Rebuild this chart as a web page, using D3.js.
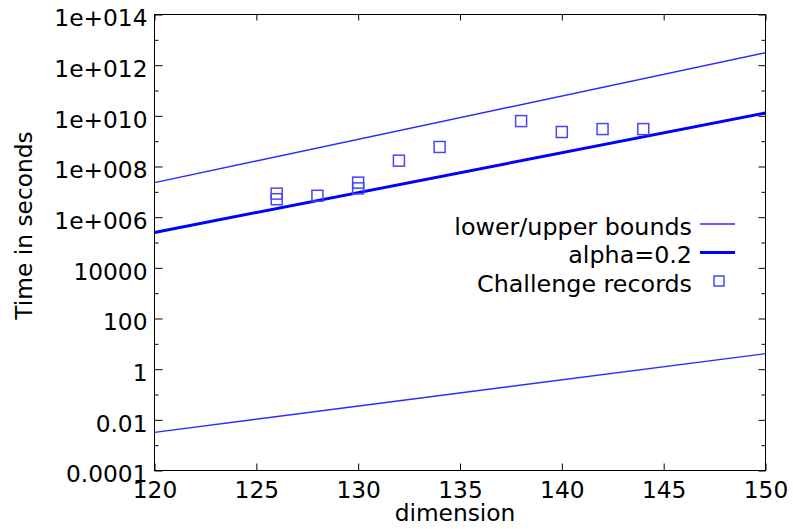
<!DOCTYPE html>
<html>
<head>
<meta charset="utf-8">
<script src="https://cdn.jsdelivr.net/npm/d3@7"></script>
<style>
  html, body { margin: 0; padding: 0; background: #fff; }
  svg { display: block; font-family: "DejaVu Sans", sans-serif; }
</style>
</head>
<body>
<svg id="chart" width="793" height="529"></svg>
<script>
// ---- data ----
const lineDims = [120, 150];
const upperBound = [2.3e7, 3.1e12];
const lowerBound = [3.2e-3, 4.1];
const alpha02 = [2.5e5, 1.3e10];

const recordDims = [126, 126, 128, 130, 130, 132, 134, 138, 140, 142, 144];
const recordTimes = [8.5e6, 5.1e6, 7.0e6, 2.3e7, 1.37e7, 1.7e8, 5.9e8, 6.2e9, 2.3e9, 3.0e9, 3.0e9];

const xTicks = [120, 125, 130, 135, 140, 145, 150];
const yTicks = [1e14, 1e12, 1e10, 1e8, 1e6, 1e4, 1e2, 1, 1e-2, 1e-4];
const yTickLabels = ["1e+014", "1e+012", "1e+010", "1e+008", "1e+006", "10000", "100", "1", "0.01", "0.0001"];
const yMinorTicks = [1e13, 1e11, 1e9, 1e7, 1e5, 1e3, 1e1, 1e-1, 1e-3];

const legendLabels = ["lower/upper bounds", "alpha=0.2", "Challenge records"];
const xTitle = "dimension";
const yTitle = "Time in seconds";

// ---- layout ----
const L = 154.5, R = 765.5, T = 14.5, B = 470.5;
const FS = 23.3;
const LFS = 23.8;
const svg = d3.select("#chart");

const x = d3.scaleLinear().domain([120, 150]).range([L, R]);
const y = d3.scaleLog().domain([1e-4, 1e14]).range([B, T]);

const boundColor = "#2a2aff";
const alphaColor = "#0000ff";
const pointColor = "#4646ff";

// clip
svg.append("clipPath").attr("id", "clip").append("rect")
  .attr("x", L).attr("y", T).attr("width", R - L).attr("height", B - T);

// axes
function styleAxis(g) {
  g.select(".domain").remove();
  g.selectAll(".tick line").attr("stroke", "#000").attr("stroke-width", 1);
  g.selectAll(".tick text").attr("fill", "#000").attr("font-size", FS)
    .attr("font-family", "DejaVu Sans, sans-serif");
}

svg.append("g").attr("transform", `translate(${L},0)`)
  .call(d3.axisLeft(y).tickValues(yTicks).tickSize(-8).tickPadding(7)
    .tickFormat((d, i) => yTickLabels[i]))
  .call(styleAxis)
  .call(g => g.selectAll(".tick text").attr("dy", "0.48em"));

svg.append("g").attr("transform", `translate(${L},0)`)
  .call(d3.axisLeft(y).tickValues(yMinorTicks).tickSize(-4).tickFormat(""))
  .call(styleAxis);

svg.append("g").attr("transform", `translate(${R},0)`)
  .call(d3.axisRight(y).tickValues(yTicks).tickSize(-7).tickFormat(""))
  .call(styleAxis);

svg.append("g").attr("transform", `translate(${R},0)`)
  .call(d3.axisRight(y).tickValues(yMinorTicks).tickSize(-4).tickFormat(""))
  .call(styleAxis);

svg.append("g").attr("transform", `translate(0,${B})`)
  .call(d3.axisBottom(x).tickValues(xTicks).tickSize(-7).tickFormat(d3.format("d")))
  .call(styleAxis)
  .call(g => g.selectAll(".tick text").attr("y", 27).attr("dy", 0));

svg.append("g").attr("transform", `translate(0,${T})`)
  .call(d3.axisTop(x).tickValues(xTicks).tickSize(-6).tickFormat(""))
  .call(styleAxis);

// frame
svg.append("rect").attr("x", L).attr("y", T).attr("width", R - L).attr("height", B - T)
  .attr("fill", "none").attr("stroke", "#000").attr("stroke-width", 1);

// lines
const plot = svg.append("g").attr("clip-path", "url(#clip)");
const lineGen = d3.line().x(d => x(d[0])).y(d => y(d[1]));

plot.append("path").datum(lineDims.map((d, i) => [d, upperBound[i]]))
  .attr("d", lineGen).attr("fill", "none").attr("stroke", boundColor).attr("stroke-width", 1.4);
plot.append("path").datum(lineDims.map((d, i) => [d, lowerBound[i]]))
  .attr("d", lineGen).attr("fill", "none").attr("stroke", boundColor).attr("stroke-width", 1.4);
plot.append("path").datum(lineDims.map((d, i) => [d, alpha02[i]]))
  .attr("d", lineGen).attr("fill", "none").attr("stroke", alphaColor).attr("stroke-width", 3);

// points
const SQ = 11;
plot.selectAll("rect.pt").data(recordDims.map((d, i) => [d, recordTimes[i]]))
  .enter().append("rect").attr("class", "pt")
  .attr("x", d => x(d[0]) - SQ / 2).attr("y", d => y(d[1]) - SQ / 2)
  .attr("width", SQ).attr("height", SQ)
  .attr("fill", "none").attr("stroke", pointColor).attr("stroke-width", 1.5);

// legend
const legX = 692, legRows = [224, 252.5, 281];
const leg = svg.append("g");
legendLabels.forEach((t, i) => {
  leg.append("text").attr("x", legX).attr("y", legRows[i] + 10.5)
    .attr("text-anchor", "end").attr("font-size", LFS).attr("fill", "#000").text(t);
});
leg.append("line").attr("x1", 700).attr("x2", 735).attr("y1", legRows[0]).attr("y2", legRows[0])
  .attr("stroke", boundColor).attr("stroke-width", 1.4);
leg.append("line").attr("x1", 700).attr("x2", 735).attr("y1", legRows[1]).attr("y2", legRows[1])
  .attr("stroke", alphaColor).attr("stroke-width", 3);
leg.append("rect").attr("x", 719 - 5).attr("y", legRows[2] - 5).attr("width", 10).attr("height", 10)
  .attr("fill", "none").attr("stroke", pointColor).attr("stroke-width", 1.5);

// titles
svg.append("text").attr("x", 455).attr("y", 521).attr("text-anchor", "middle")
  .attr("font-size", FS).attr("fill", "#000").text(xTitle);
svg.append("text").attr("transform", "translate(32,225.5) rotate(-90)")
  .attr("text-anchor", "middle").attr("font-size", FS).attr("fill", "#000").text(yTitle);
</script>
</body>
</html>
